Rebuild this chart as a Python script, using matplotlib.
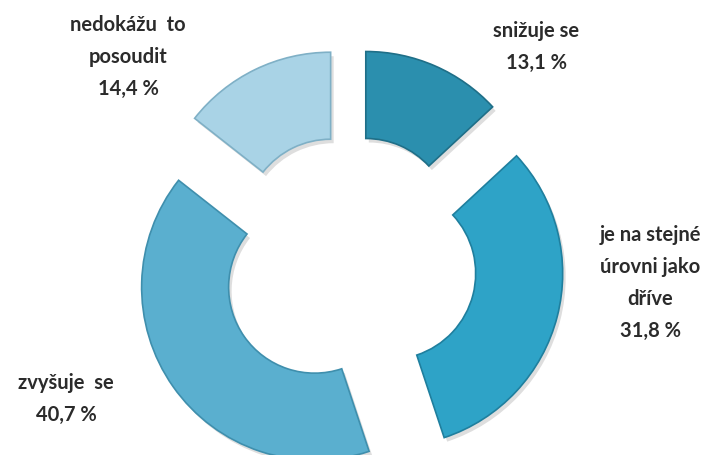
import matplotlib.pyplot as plt

# Data
categories = ["snižuje se", "je na stejné\núrovni jako\ndříve", "zvyšuje  se", "nedokážu  to\nposoudit"]
shares = [13.1, 31.8, 40.7, 14.4]
colors = ["#2b8fae", "#2ea3c7", "#5aafcf", "#a9d3e6"]
edge_colors = ["#1f6f88", "#1f7f9e", "#3f8fad", "#7fb0c6"]

# label positions in pixels (x, y from top)
label_pos = [(536, 47), (650, 283), (66, 399), (128, 57)]

W, H = 714, 456
fig = plt.figure(figsize=(W / 100, H / 100), dpi=100)
ax = fig.add_axes([0, 0, 1, 1])

center = (349, H - 264)
radius = 173
ring = 87
explode = [42] * len(shares)

# soft shadow under the ring pieces
ax.pie(shares, explode=explode, radius=radius, center=(center[0] + 3, center[1] - 4),
       startangle=90, counterclock=False, colors=["#c8c8c8"] * 4,
       wedgeprops=dict(width=ring, linewidth=0, alpha=0.6))

wedges, _ = ax.pie(shares, explode=explode, radius=radius, center=center,
                   startangle=90, counterclock=False, colors=colors,
                   wedgeprops=dict(width=ring, linewidth=1.2))
for w, ec in zip(wedges, edge_colors):
    w.set_edgecolor(ec)

for name, val, (x, y) in zip(categories, shares, label_pos):
    txt = f"{name}\n{val:.1f} %".replace(".", ",")
    ax.text(x, H - y, txt, ha="center", va="center", fontsize=14.5,
            fontweight="bold", family="Lato", color="#2b2b2b", linespacing=1.75)

ax.set_xlim(0, W)
ax.set_ylim(0, H)
ax.set_aspect("equal")
ax.axis("off")

fig.savefig("out.png", dpi=100, facecolor="white")
